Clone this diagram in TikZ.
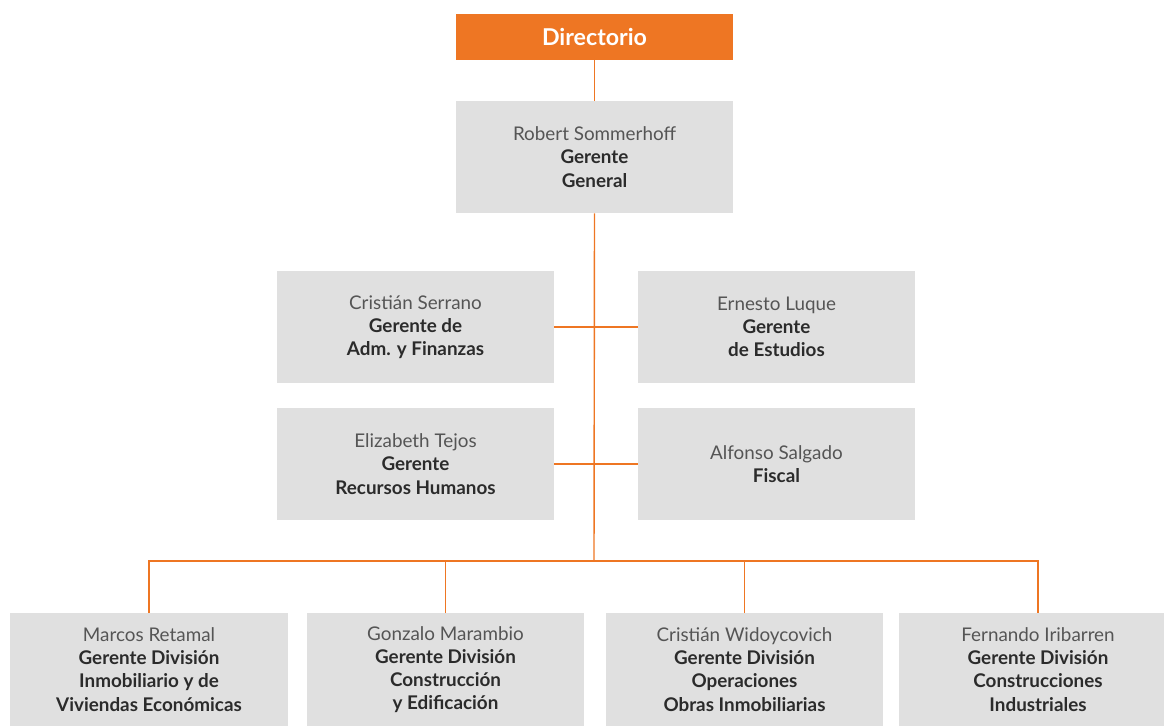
\documentclass[tikz,border=0pt]{standalone}
\usepackage{fontspec}
\setmainfont{Lato}
\definecolor{naranja}{HTML}{EE7623}
\definecolor{caja}{HTML}{E0E0E0}
\definecolor{nombre}{HTML}{555555}
\definecolor{cargo}{HTML}{2B2B2B}
\newcommand{\cargo}[1]{{\bfseries\color{cargo}#1}}
\begin{document}
\begin{tikzpicture}[x=0.025cm,y=-0.025cm,
  caja/.style={fill=caja,minimum width=6.925cm,minimum height=2.8cm,inner sep=0pt,
    align=center,text=nombre,font=\fontsize{13.4}{16.5}\selectfont},
  linea/.style={draw=naranja,line width=1pt}]
\useasboundingbox (0,0) rectangle (1164,726);
\clip (0,0) rectangle (1164,726);
% cajas
\node[fill=naranja,minimum width=6.925cm,minimum height=1.15cm,text=white,
  font=\fontsize{16.5}{18}\selectfont\bfseries] (dir) at (594.5,37) {Directorio};
\node[caja] (ger) at (594.5,157) {Robert Sommerhoff\\ \cargo{Gerente}\\ \cargo{General}};
\node[caja] (adm) at (415.5,327) {Cristián Serrano\\ \cargo{Gerente de}\\ \cargo{Adm. y Finanzas}};
\node[caja] (est) at (776.5,327) {Ernesto Luque\\ \cargo{Gerente}\\ \cargo{de Estudios}};
\node[caja] (rrhh) at (415.5,464) {Elizabeth Tejos\\ \cargo{Gerente}\\ \cargo{Recursos Humanos}};
\node[caja] (fis) at (776.5,464) {Alfonso Salgado\\ \cargo{Fiscal}};
\node[caja] (inm) at (149,669.5) {Marcos Retamal\\ \cargo{Gerente División}\\ \cargo{Inmobiliario y de}\\ \cargo{Viviendas Económicas}};
\node[caja] (con) at (445.5,669.5) {Gonzalo Marambio\\ \cargo{Gerente División}\\ \cargo{Construcción}\\ \cargo{y Edificación}};
\node[caja] (ope) at (744.5,669.5) {Cristián Widoycovich\\ \cargo{Gerente División}\\ \cargo{Operaciones}\\ \cargo{Obras Inmobiliarias}};
\node[caja] (ind) at (1038,669.5) {Fernando Iribarren\\ \cargo{Gerente División}\\ \cargo{Construcciones}\\ \cargo{Industriales}};
\coordinate (bus) at (594,561);
% lineas
\draw[linea] (dir.south) -- (ger.north);
\draw[linea] (ger.south) -- (bus);
\draw[linea] (adm.east) -- (est.west);
\draw[linea] (rrhh.east) -- (fis.west);
\draw[linea] (inm.north) |- (bus) -| (ind.north);
\draw[linea] (con.north) |- (bus);
\draw[linea] (ope.north) |- (bus);
\end{tikzpicture}
\end{document}
